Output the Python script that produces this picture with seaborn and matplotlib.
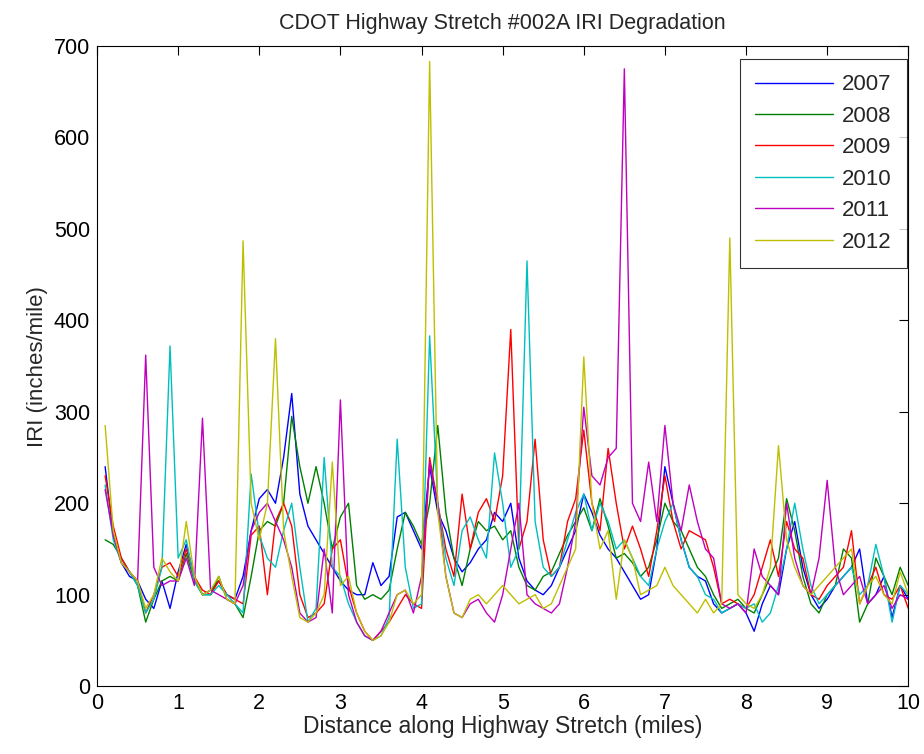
import numpy as np
import pandas as pd
import matplotlib
matplotlib.use("Agg")
import matplotlib.pyplot as plt
import seaborn as sns

distance = [round(i / 10, 1) for i in range(1, 101)]
years = ["2007", "2008", "2009", "2010", "2011", "2012"]

iri_2007 = [240, 165, 135, 120, 115, 95, 85, 115, 85, 125,
            155, 120, 100, 105, 115, 100, 95, 120, 170, 205,
            215, 200, 250, 320, 210, 175, 160, 145, 130, 115,
            105, 100, 100, 135, 110, 120, 185, 190, 170, 150,
            240, 190, 170, 140, 125, 135, 150, 160, 190, 180,
            200, 140, 115, 105, 100, 110, 130, 150, 170, 210,
            190, 165, 150, 140, 125, 110, 95, 100, 150, 240,
            200, 160, 130, 120, 115, 90, 80, 85, 90, 80,
            60, 90, 110, 100, 150, 180, 130, 100, 85, 95,
            110, 120, 130, 150, 90, 100, 120, 75, 110, 95]

iri_2008 = [160, 155, 140, 125, 110, 70, 95, 115, 120, 115,
            145, 115, 100, 100, 120, 95, 90, 75, 120, 170,
            180, 175, 200, 295, 240, 200, 240, 200, 150, 185,
            200, 110, 95, 100, 95, 105, 150, 190, 175, 155,
            200, 285, 190, 140, 110, 150, 180, 170, 175, 160,
            170, 130, 110, 105, 120, 125, 145, 165, 180, 195,
            170, 205, 175, 140, 145, 135, 120, 130, 160, 200,
            180, 170, 150, 130, 120, 100, 85, 90, 95, 85,
            80, 100, 120, 140, 205, 170, 120, 90, 80, 100,
            110, 150, 140, 70, 90, 140, 120, 100, 130, 110]

iri_2009 = [230, 175, 140, 125, 115, 80, 100, 130, 135, 120,
            150, 120, 105, 100, 115, 100, 95, 90, 165, 175,
            100, 180, 200, 175, 100, 75, 80, 90, 150, 160,
            110, 80, 60, 50, 60, 70, 85, 100, 90, 85,
            250, 200, 150, 120, 210, 150, 190, 205, 180, 230,
            390, 150, 180, 270, 160, 120, 130, 180, 205, 280,
            200, 170, 260, 200, 150, 175, 150, 120, 170, 230,
            180, 150, 170, 165, 160, 130, 90, 95, 90, 85,
            100, 130, 160, 120, 180, 150, 140, 100, 95, 110,
            120, 130, 170, 90, 110, 130, 100, 95, 110, 85]

iri_2010 = [220, 160, 135, 125, 110, 80, 95, 130, 372, 140,
            160, 115, 100, 100, 110, 100, 90, 80, 232, 165,
            140, 130, 170, 200, 130, 70, 85, 250, 130, 120,
            90, 70, 55, 50, 55, 75, 270, 130, 85, 90,
            383, 200, 140, 110, 170, 185, 160, 140, 255, 200,
            130, 150, 465, 180, 130, 120, 130, 160, 190, 210,
            170, 200, 180, 150, 160, 140, 120, 110, 150, 180,
            200, 160, 130, 120, 100, 95, 80, 85, 90, 85,
            90, 70, 80, 110, 150, 200, 150, 110, 90, 100,
            110, 120, 130, 100, 110, 155, 120, 70, 110, 100]

iri_2011 = [215, 165, 135, 125, 115, 362, 130, 110, 115, 115,
            140, 110, 293, 105, 100, 95, 90, 110, 170, 190,
            200, 180, 160, 130, 80, 70, 75, 150, 80, 313,
            100, 70, 55, 50, 60, 80, 100, 105, 80, 120,
            245, 200, 120, 80, 75, 90, 95, 80, 70, 100,
            150, 200, 100, 90, 85, 80, 90, 130, 180, 305,
            230, 220, 250, 260, 675, 200, 180, 245, 180, 285,
            200, 170, 220, 180, 150, 140, 90, 85, 90, 80,
            150, 120, 110, 100, 200, 140, 110, 100, 140, 225,
            130, 100, 110, 120, 90, 100, 110, 85, 100, 95]

iri_2012 = [285, 170, 135, 125, 115, 85, 100, 140, 125, 115,
            180, 120, 100, 105, 120, 95, 90, 487, 200, 160,
            200, 380, 170, 120, 75, 70, 80, 100, 245, 110,
            120, 80, 60, 50, 55, 70, 100, 105, 90, 100,
            683, 190, 120, 80, 75, 95, 100, 90, 100, 110,
            100, 90, 95, 100, 85, 90, 110, 130, 150, 360,
            200, 150, 170, 95, 160, 140, 100, 105, 110, 130,
            110, 100, 90, 80, 95, 80, 90, 490, 100, 90,
            85, 100, 130, 263, 160, 130, 110, 100, 110, 120,
            130, 140, 150, 90, 110, 120, 100, 90, 125, 100]

series = [iri_2007, iri_2008, iri_2009, iri_2010, iri_2011, iri_2012]
colors = ["#0000ff", "#008000", "#ff0000", "#00bfbf", "#bf00bf", "#bfbf00"]

frames = []
for yr, vals in zip(years, series):
    frames.append(pd.DataFrame({"Distance": distance, "IRI": vals, "Year": yr}))
df = pd.concat(frames, ignore_index=True)

sns.set_style("white")
plt.rcParams["font.family"] = ["Liberation Sans", "DejaVu Sans"]

fig = plt.figure(figsize=(9.24, 7.54), dpi=100)
ax = fig.add_axes([0.105, 0.090, 0.878, 0.849])

sns.lineplot(data=df, x="Distance", y="IRI", hue="Year", palette=colors,
             linewidth=1.0, ax=ax, estimator=None, sort=False)

ax.set_xlim(0, 10)
ax.set_ylim(0, 700)
ax.set_xticks(range(0, 11))
ax.set_yticks(range(0, 701, 100))
ax.tick_params(direction="in", top=True, right=True, length=6.5, width=0.8,
               labelsize=15.5, colors="black", pad=5)
for s in ax.spines.values():
    s.set_color("black")
    s.set_linewidth(0.8)
    s.set_visible(True)

ax.set_title("CDOT Highway Stretch #002A IRI Degradation", fontsize=15.5, pad=12)
ax.set_xlabel("Distance along Highway Stretch (miles)", fontsize=16.5, labelpad=1)
ax.set_ylabel("IRI (inches/mile)", fontsize=16, labelpad=4)

leg = ax.legend(loc="upper right", bbox_to_anchor=(0.999, 0.98), fontsize=16,
                handlelength=3.5, handletextpad=0.42,
                frameon=True, fancybox=False, edgecolor="black",
                borderaxespad=0.0, labelspacing=0.47, borderpad=0.7)
leg.get_frame().set_linewidth(0.8)

fig.savefig("out.png", dpi=100, facecolor="white")
